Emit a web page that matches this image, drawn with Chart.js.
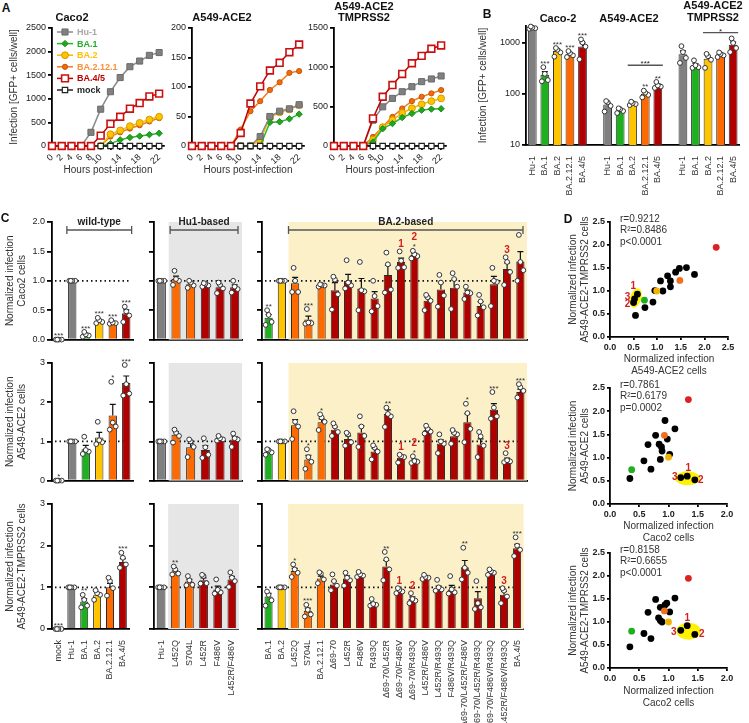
<!DOCTYPE html>
<html>
<head>
<meta charset="utf-8">
<script src="https://cdn.jsdelivr.net/npm/chart.js@4.4.1/dist/chart.umd.min.js"></script>
<style>
  body { margin: 0; background: #fff; }
  #fig { position: relative; width: 749px; height: 723px; overflow: hidden; font-family: "Liberation Sans", Arial, sans-serif; color: #111; }
  #fig canvas { position: absolute; }
  .t { position: absolute; transform: translate(-50%, -50%); white-space: nowrap; font-weight: bold; font-size: 11px; line-height: 1; }
</style>
</head>
<body>
<div id="fig"></div>
<script>
// ---------- panel A: infection kinetics, GFP+ cells per well ----------
const hours = [0, 2, 4, 6, 8, 10, 12, 14, 16, 18, 20, 22];
const unlabeledHours = [12, 16, 20];

const cacoHu1    = [0, 0, 0, 0, 290, 780, 1150, 1450, 1680, 1800, 1920, 1980];
const cacoBA1    = [0, 0, 0, 0, 0, 0, 50, 130, 180, 210, 240, 270];
const cacoBA2    = [0, 0, 0, 0, 0, 0, 250, 330, 420, 490, 560, 620];
const cacoBA2121 = [0, 0, 0, 0, 0, 0, 200, 290, 370, 440, 520, 590];
const cacoBA45   = [0, 0, 0, 0, 0, 220, 470, 620, 790, 910, 1050, 1110];

const aceHu1    = [0, 0, 0, 0, 0, 0, 0, 16, 50, 59, 63, 70];
const aceBA1    = [0, 0, 0, 0, 0, 0, 0, 0, 40, 41, 46, 54];
const aceBA2    = [0, 0, 0, 0, 0, 0, 0, 10, 48, 57, 62, 69];
const aceBA2121 = [0, 0, 0, 0, 0, 28, 59, 76, 95, 108, 124, 127];
const aceBA45   = [0, 0, 0, 0, 0, 22, 72, 101, 128, 141, 159, 172];

const tmpHu1    = [0, 0, 0, 0, 328, 498, 605, 690, 754, 818, 852, 890];
const tmpBA1    = [0, 0, 0, 0, 51, 220, 285, 362, 413, 456, 469, 473];
const tmpBA2    = [0, 0, 0, 0, 80, 240, 330, 420, 480, 530, 570, 605];
const tmpBA2121 = [0, 0, 0, 0, 115, 243, 370, 477, 571, 626, 669, 711];
const tmpBA45   = [0, 0, 0, 0, 350, 626, 775, 916, 1052, 1146, 1236, 1278];

const mockGfp = [0, 0, 0, 0, 0, 0, 0, 0, 0, 0, 0, 0];

// ---------- panel B: infection [GFP+ cells/well], log scale ----------
const bVariants = ['Hu-1', 'BA.1', 'BA.2', 'BA.2.12.1', 'BA.4/5'];
const bCaco = [1950, 235, 680, 590, 840];
const bAce2 = [62, 47, 65, 100, 145];
const bTmp  = [590, 360, 480, 590, 900];
const bCacoPts = [[1850, 1900, 1950, 2050], [175, 185, 245, 330], [530, 640, 720, 780], [520, 560, 620, 680], [470, 830, 1000, 1150]];
const bAce2Pts = [[45, 58, 68, 72], [42, 46, 50, 52], [60, 63, 66, 70], [85, 95, 105, 115], [130, 138, 145, 170]];
const bTmpPts  = [[400, 500, 650, 850], [320, 330, 360, 450], [320, 460, 540, 600], [520, 560, 600, 640], [650, 780, 980, 1200]];
const bCacoStars = ['', '***', '***', '***', '***'];
const bAce2Stars = ['', '', '', '**', '**'];
const bTmpStars  = ['', '', '', '', ''];

// ---------- panel C: normalized infection ----------
const wtLabels  = ['mock', 'Hu-1', 'BA.1', 'BA.2', 'BA.2.12.1', 'BA.4/5'];
const hu1Labels = ['Hu-1', 'L452Q', 'S704L', 'L452R', 'F486V', 'L452R/F486V'];
const ba2Labels = ['BA.1', 'BA.2', 'L452Q', 'S704L', 'BA.2.12.1', 'Δ69-70', 'L452R', 'F486V', 'R493Q',
  'Δ69-70/L452R', 'Δ69-70/F486V', 'Δ69-70/R493Q', 'L452R/F486V', 'L452R/R493Q', 'F486V/R493Q',
  'Δ69-70/L452R/F486V', 'Δ69-70/L452R/R493Q', 'Δ69-70/F486V/R493Q', 'L452R/F486V/R493Q', 'BA.4/5'];
const ba2Marks = ['', '', '', '', '', '', '', '', '', '', '1', '2', '', '', '', '', '', '', '3', ''];

// Caco2
const cacoWt = [0, 1, 0.08, 0.32, 0.29, 0.45];
const cacoWtPts = [[0, 0, 0, 0], [1, 1, 1, 1], [0.05, 0.07, 0.09, 0.13], [0.28, 0.3, 0.33, 0.37], [0.27, 0.28, 0.29, 0.33], [0.3, 0.41, 0.48, 0.56]];
const cacoWtStars = ['***', '', '***', '***', '***', '***'];
const cacoHu1Bars = [1, 1.03, 0.94, 0.93, 0.89, 0.89];
const cacoHu1Pts = [[1, 1, 1, 1], [0.93, 1.0, 1.03, 1.17], [0.88, 0.92, 0.97, 1.0], [0.9, 0.92, 0.95, 0.96], [0.79, 0.87, 0.93, 0.97], [0.8, 0.86, 0.9, 1.0]];
const cacoBa2 = [0.37, 1.0, 0.96, 0.34, 0.92, 0.84, 1.0, 0.87, 0.70, 1.10, 1.32, 1.44, 0.66, 0.85, 0.88, 0.80, 0.57, 0.94, 1.20, 1.33];
const cacoBa2Pts = [[0.25, 0.3, 0.42, 0.5], [1, 1, 1, 1], [0.81, 0.81, 1.0, 1.22], [0.27, 0.28, 0.29, 0.52], [0.9, 0.92, 0.93, 0.94],
  [0.51, 0.77, 1.02, 1.07], [0.87, 0.92, 0.97, 1.35], [0.5, 0.82, 0.84, 1.32], [0.48, 0.57, 0.74, 1.0], [0.8, 0.85, 1.28, 1.48],
  [1.22, 1.23, 1.34, 1.5], [1.38, 1.42, 1.45, 1.51], [0.5, 0.66, 0.72, 0.76], [0.56, 0.75, 0.97, 1.1], [0.52, 0.9, 1.03, 1.13],
  [0.69, 0.79, 0.8, 0.9], [0.41, 0.55, 0.65, 0.76], [0.57, 0.98, 1.0, 1.22], [0.93, 1.15, 1.32, 1.4], [1.0, 1.18, 1.32, 1.78]];
const cacoBa2Stars = ['**', '', '', '***', '', '', '', '', '', '', '', '*', '', '', '', '', '', '', '', ''];

// A549-ACE2
const aceWt = [0, 1, 0.8, 1.1, 1.66, 2.49];
const aceWtPts = [[0, 0, 0, 0], [1, 1, 1, 1], [0.68, 0.74, 0.78, 1.12], [0.93, 0.98, 1.03, 1.5], [1.3, 1.38, 1.48, 2.52], [2.17, 2.22, 2.46, 2.95]];
const aceWtStars = ['*', '', '', '', '*', '***'];
const aceHu1Bars = [1, 1.17, 0.85, 0.78, 1.06, 1.05];
const aceHu1Pts = [[1, 1, 1, 1], [0.97, 1.14, 1.22, 1.3], [0.6, 0.86, 1.0, 1.05], [0.58, 0.66, 0.85, 1.08], [1.02, 1.05, 1.08, 1.14], [0.86, 1.05, 1.08, 1.2]];
const aceBa2 = [0.74, 1.0, 1.41, 0.54, 1.49, 1.30, 1.06, 1.23, 0.74, 1.70, 0.58, 0.51, 1.29, 0.94, 1.13, 1.49, 0.92, 1.81, 0.52, 2.26];
const aceBa2Pts = [[0.66, 0.72, 0.78, 0.8], [1, 1, 1, 1], [1.06, 1.38, 1.5, 1.77], [0.3, 0.48, 0.6, 0.8], [1.29, 1.5, 1.61, 1.69],
  [1.14, 1.24, 1.38, 1.46], [0.89, 0.98, 1.18, 1.22], [0.86, 1.14, 1.38, 1.64], [0.54, 0.74, 0.84, 0.9], [1.37, 1.64, 1.7, 1.86],
  [0.46, 0.6, 0.62, 0.66], [0.45, 0.48, 0.5, 0.62], [1.2, 1.25, 1.32, 1.4], [0.7, 0.94, 1.0, 1.18], [0.94, 1.18, 1.22, 1.29],
  [0.98, 1.32, 1.72, 1.96], [0.6, 0.89, 1.13, 1.24], [1.58, 1.64, 1.86, 2.26], [0.47, 0.49, 0.52, 0.7], [2.12, 2.29, 2.38, 2.46]];
const aceBa2Stars = ['', '', '', '*', '*', '', '', '', '', '**', '', '*', '', '', '', '*', '', '***', '', '***'];

// A549-ACE2-TMPRSS2
const tmpWt = [0, 1, 0.66, 0.81, 1.0, 1.61];
const tmpWtPts = [[0, 0, 0, 0], [1, 1, 1, 1], [0.52, 0.56, 0.7, 0.82], [0.7, 0.82, 0.86, 0.93], [0.8, 0.98, 1.15, 1.23], [1.47, 1.55, 1.71, 1.83]];
const tmpWtStars = ['***', '', '**', '', '', '***'];
const tmpHu1Bars = [1, 1.35, 1.14, 1.17, 0.95, 1.19];
const tmpHu1Pts = [[1, 1, 1, 1], [1.31, 1.33, 1.43, 1.5], [1.05, 1.06, 1.17, 1.27], [1.09, 1.1, 1.27, 1.3], [0.85, 0.88, 0.94, 1.19], [1.01, 1.15, 1.23, 1.36]];
const tmpHu1Stars = ['', '**', '', '', '', ''];
const tmpBa2 = [0.78, 1.0, 1.39, 0.44, 1.21, 1.07, 1.21, 1.28, 0.6, 1.5, 0.91, 0.72, 1.24, 0.97, 0.95, 1.48, 0.74, 1.37, 0.82, 1.94];
const tmpBa2Pts = [[0.56, 0.69, 0.82, 0.9], [1, 1, 1, 1], [1.25, 1.35, 1.43, 1.55], [0.3, 0.35, 0.46, 0.58], [1.1, 1.19, 1.33, 1.36],
  [0.93, 1.04, 1.15, 1.31], [1.04, 1.17, 1.23, 1.35], [1.25, 1.28, 1.31, 1.37], [0.56, 0.58, 0.6, 0.72], [1.17, 1.43, 1.67, 1.85],
  [0.86, 0.9, 0.94, 0.98], [0.62, 0.68, 0.72, 0.86], [1.2, 1.23, 1.25, 1.3], [0.92, 0.95, 1.0, 1.18], [0.85, 0.88, 0.95, 1.27],
  [1.19, 1.35, 1.47, 1.95], [0.48, 0.52, 0.62, 1.15], [1.3, 1.35, 1.38, 1.43], [0.62, 0.78, 0.92, 0.98], [1.75, 1.9, 2.0, 2.2]];
const tmpBa2Stars = ['', '', '*', '***', '', '', '', '', '', '**', '', '', '', '', '', '**', '', '', '', '***'];

// ---------- panel D: correlations (x, y) ----------
const d1Black  = [[1.62, 1.51], [1.47, 1.49], [1.39, 1.41], [1.22, 1.33], [1.28, 1.22], [1.07, 1.22], [1.28, 1.09], [1.12, 1.0], [0.95, 1.01], [1.79, 1.36], [0.91, 0.76], [0.74, 0.64], [0.54, 0.47]];
const d1Marked = [[0.58, 0.93], [0.50, 0.75], [0.52, 0.83]];
const d1Colored = [[0.73, 0.80], [0.99, 1.0], [1.48, 1.23], [2.25, 1.95]];
const d2Black  = [[0.94, 1.80], [1.11, 1.62], [0.78, 1.48], [0.65, 1.28], [0.84, 1.29], [0.88, 1.23], [0.98, 1.40], [0.89, 1.14], [1.02, 1.07], [0.86, 0.96], [0.58, 0.93], [0.70, 0.75], [0.34, 0.55]];
const d2Marked = [[1.32, 0.60], [1.45, 0.52], [1.21, 0.57]];
const d2Colored = [[0.37, 0.74], [1.0, 1.01], [0.93, 1.48], [1.34, 2.25]];
const d3Black  = [[0.78, 1.49], [0.65, 1.21], [0.86, 1.32], [0.94, 1.37], [0.97, 1.41], [1.11, 1.52], [1.02, 1.22], [0.83, 1.09], [0.86, 1.03], [0.89, 1.0], [0.58, 0.75], [0.70, 0.64], [0.34, 0.46]];
const d3Marked = [[1.32, 0.92], [1.45, 0.73], [1.21, 0.82]];
const d3Colored = [[0.37, 0.80], [1.0, 1.0], [0.93, 1.24], [1.34, 1.95]];
const markedNames = ['1', '2', '3'];
const d1Stats = ['r=0.9212', 'R²=0.8486', 'p<0.0001'];
const d2Stats = ['r=0.7861', 'R²=0.6179', 'p=0.0002'];
const d3Stats = ['r=0.8158', 'R²=0.6655', 'p<0.0001'];

// ---------- styling ----------
const FONT = '"Liberation Sans", Arial, sans-serif';
Chart.defaults.font.family = FONT;
Chart.defaults.font.size = 9;
Chart.defaults.color = '#222';
Chart.defaults.animation = false;
Chart.defaults.responsive = false;
Chart.defaults.plugins.legend.display = false;
Chart.defaults.plugins.tooltip.enabled = false;

const GRAY = '#808080', GREEN = '#1fb01f', YELLOW = '#ffc400', ORANGE = '#ff6a00', RED = '#b00000';
const wtColors = [GRAY, GRAY, GREEN, YELLOW, ORANGE, RED];
const hu1Colors = [GRAY, ORANGE, ORANGE, RED, RED, RED];
const ba2Colors = ba2Labels.map((l, i) => i === 0 ? GREEN : i === 1 ? YELLOW : (i <= 4 ? ORANGE : RED));
const JITTER = [-3, 3, 0, -1.5];

const fig = document.getElementById('fig');

function label(str, x, y, css) {
  const d = document.createElement('div');
  d.className = 't';
  d.textContent = str;
  d.style.left = x + 'px';
  d.style.top = y + 'px';
  if (css) Object.assign(d.style, css);
  fig.appendChild(d);
}

// canvas placed so that the chart area lands on box l/t/r/b
function place(box, config) {
  const {l, t, r, b, yW = 8, xH = 0, pl = 0, pt = 10, pr = 8, pb = 0} = box;
  const left = l - yW - pl, top = t - pt;
  const w = Math.round(r + pr - left), h = Math.round(b + xH + pb - top);
  const cv = document.createElement('canvas');
  cv.width = w; cv.height = h;
  cv.style.left = left + 'px'; cv.style.top = top + 'px';
  fig.appendChild(cv);
  const o = config.options;
  o.layout = {padding: {left: pl, top: pt, right: pr, bottom: pb}};
  o.scales.y.afterFit = s => { s.width = yW; };
  o.scales.x.afterFit = s => { s.height = xH; };
  return new Chart(cv, config);
}

function linAxis(min, max, step, opt = {}) {
  return {
    type: opt.log ? 'logarithmic' : 'linear', min, max,
    border: {color: '#000', width: 1.8},
    grid: {drawOnChartArea: false, color: '#000', lineWidth: 1.8, tickLength: opt.tickLength || 4},
    ticks: {stepSize: step, autoSkip: false, padding: 2, color: '#222',
      font: {size: opt.fontSize || 9, weight: opt.bold ? 'bold' : 'normal'},
      callback: opt.fmt || (v => v)},
    title: opt.title ? {display: true, text: opt.title, color: '#333', font: {size: 10}, padding: {top: opt.titleTop || 4, bottom: 4}} : {display: false},
    afterBuildTicks: opt.tickValues ? s => { s.ticks = opt.tickValues.map(v => ({value: v})); } : undefined
  };
}

function catAxis(showLabels) {
  return {
    type: 'category',
    border: {color: '#000', width: 1.8},
    grid: {display: false},
    ticks: showLabels ? {display: true, autoSkip: false, maxRotation: 90, minRotation: 90, padding: 3, color: '#333', font: {size: 9}} : {display: false}
  };
}

function sem(arr) {
  const n = arr.length, m = arr.reduce((s, v) => s + v, 0) / n;
  const sd = Math.sqrt(arr.reduce((s, v) => s + (v - m) * (v - m), 0) / (n - 1));
  return sd / Math.sqrt(n);
}

// shading, reference line, dots, SEM whiskers, stars
const barMarks = {
  id: 'barMarks',
  beforeDatasetsDraw(chart, args, o) {
    const {ctx, chartArea: a, scales: {x, y}} = chart;
    ctx.save();
    if (o.shadeFrom != null) {
      const step = x.getPixelForValue(1) - x.getPixelForValue(0);
      const x0 = x.getPixelForValue(o.shadeFrom) - step / 2;
      ctx.fillStyle = o.shadeColor;
      ctx.fillRect(x0, a.top, a.right - x0, a.bottom - a.top);
    }
    if (o.refLine != null) {
      const yy = y.getPixelForValue(o.refLine);
      ctx.setLineDash([1.5, 3]);
      ctx.lineWidth = 1.8;
      ctx.strokeStyle = '#111';
      ctx.beginPath(); ctx.moveTo(a.left + 3, yy); ctx.lineTo(a.right - 3, yy); ctx.stroke();
    }
    ctx.restore();
  },
  afterDatasetsDraw(chart, args, o) {
    if (!o.points) return;
    const {ctx, scales: {x, y}} = chart;
    const means = chart.data.datasets[0].data;
    ctx.save();
    o.points.forEach((p, i) => {
      if (!p) return;
      const cx = x.getPixelForValue(i);
      let top = y.getPixelForValue(means[i]);
      const e = sem(p);
      if (e > 1e-6) {
        const y0 = y.getPixelForValue(means[i]), y1 = y.getPixelForValue(means[i] + e);
        ctx.strokeStyle = '#111'; ctx.lineWidth = 1.2;
        ctx.beginPath(); ctx.moveTo(cx, y0); ctx.lineTo(cx, y1);
        ctx.moveTo(cx - 3, y1); ctx.lineTo(cx + 3, y1); ctx.stroke();
        top = Math.min(top, y1);
      }
      p.forEach((v, k) => {
        const py = y.getPixelForValue(v);
        ctx.beginPath(); ctx.arc(cx + JITTER[k % 4], py, 2.4, 0, Math.PI * 2);
        ctx.fillStyle = '#fff'; ctx.fill();
        ctx.lineWidth = 1; ctx.strokeStyle = '#333'; ctx.stroke();
        top = Math.min(top, py - 2.4);
      });
      ctx.textAlign = 'center'; ctx.textBaseline = 'alphabetic';
      const s = o.stars && o.stars[i];
      if (s) {
        ctx.font = '8px ' + FONT; ctx.fillStyle = '#333';
        ctx.fillText(s, cx, top + 1);
        top -= 6;
      }
      const m = o.marks && o.marks[i];
      if (m) {
        ctx.font = 'bold 10px ' + FONT; ctx.fillStyle = '#d21f1f';
        ctx.fillText(m, cx, top - 2);
      }
    });
    ctx.restore();
  }
};

// group brackets and significance lines
const brackets = {
  id: 'brackets',
  afterDraw(chart, args, o) {
    if (!o.items) return;
    const {ctx, chartArea: a, scales: {x, y}} = chart;
    const step = x.getPixelForValue(1) - x.getPixelForValue(0);
    ctx.save();
    o.items.forEach(b => {
      const x0 = b.fromEdge ? x.getPixelForValue(b.from) - step / 2 : x.getPixelForValue(b.from) - step * 0.4;
      const x1 = b.toEnd ? a.right - 4 : x.getPixelForValue(b.to) + step * 0.4;
      const yy = b.value != null ? y.getPixelForValue(b.value) : a.top + b.offset;
      ctx.strokeStyle = '#555'; ctx.lineWidth = 1.3;
      ctx.beginPath(); ctx.moveTo(x0, yy); ctx.lineTo(x1, yy);
      if (b.ends) { ctx.moveTo(x0, yy - 4); ctx.lineTo(x0, yy + 4); ctx.moveTo(x1, yy - 4); ctx.lineTo(x1, yy + 4); }
      ctx.stroke();
      ctx.font = b.font; ctx.fillStyle = '#222'; ctx.textAlign = 'center'; ctx.textBaseline = 'alphabetic';
      ctx.fillText(b.text, (x0 + x1) / 2, yy - b.gap);
    });
    ctx.restore();
  }
};

function drawMarker(ctx, style, x, y, r) {
  ctx.beginPath();
  if (style === 'circle') ctx.arc(x, y, r, 0, Math.PI * 2);
  else if (style === 'rectRot') { ctx.moveTo(x, y - r); ctx.lineTo(x + r, y); ctx.lineTo(x, y + r); ctx.lineTo(x - r, y); ctx.closePath(); }
  else { const s = r * Math.SQRT1_2; ctx.rect(x - s, y - s, 2 * s, 2 * s); }
  ctx.fill(); ctx.stroke();
}

const lineLegend = {
  id: 'lineLegend',
  afterDraw(chart, args, o) {
    if (!o.series) return;
    const {ctx, chartArea: a} = chart;
    ctx.save();
    o.series.forEach((s, row) => {
      const yy = a.top + o.top + row * o.rowH, x0 = a.left + o.left;
      ctx.strokeStyle = s.line; ctx.lineWidth = 1.5;
      ctx.beginPath(); ctx.moveTo(x0, yy); ctx.lineTo(x0 + 16, yy); ctx.stroke();
      ctx.fillStyle = s.fill; ctx.strokeStyle = s.edge; ctx.lineWidth = s.bw;
      drawMarker(ctx, s.style, x0 + 8, yy, s.r);
      ctx.font = 'bold 9px ' + FONT; ctx.fillStyle = s.text;
      ctx.textAlign = 'left'; ctx.textBaseline = 'middle';
      ctx.fillText(s.label, x0 + 20, yy + 0.5);
    });
    ctx.restore();
  }
};

// ---------- panel A ----------
const aSeries = [
  {label: 'Hu-1', order: 2, line: '#8a8a8a', fill: '#808080', edge: '#6a6a6a', style: 'rect', r: 4.3, bw: 1, text: '#a8a8a8'},
  {label: 'BA.1', order: 3, line: '#2bb52b', fill: '#1fa81f', edge: '#178a17', style: 'rectRot', r: 3.2, bw: 1, text: '#22b022'},
  {label: 'BA.2', order: 4, line: '#f5b800', fill: '#ffc400', edge: '#d49a00', style: 'circle', r: 3.4, bw: 1, text: '#ffbf00'},
  {label: 'BA.2.12.1', order: 5, line: '#f27a1a', fill: '#f26a0a', edge: '#c4560a', style: 'circle', r: 2.6, bw: 1, text: '#f7913d'},
  {label: 'BA.4/5', order: 0, line: '#c00000', fill: '#ffffff', edge: '#c81010', style: 'rect', r: 4.8, bw: 1.6, text: '#c00000'},
  {label: 'mock', order: 1, line: '#222222', fill: '#ffffff', edge: '#222222', style: 'rect', r: 3.8, bw: 1.2, text: '#222222'}
];

function aChart(box, series, yMax, yStep, legend, yTitle) {
  const datasets = series.map((vals, k) => {
    const s = aSeries[k];
    return {
      label: s.label, order: s.order, clip: false,
      data: vals.map((v, i) => ({x: hours[i], y: v})),
      borderColor: s.line, borderWidth: 1.5,
      pointStyle: s.style, pointRadius: s.r, pointBackgroundColor: s.fill,
      pointBorderColor: s.edge, pointBorderWidth: s.bw
    };
  });
  place(box, {
    type: 'line',
    data: {datasets},
    options: {
      scales: {
        x: linAxis(0, 23, 2, {title: 'Hours post-infection', tickValues: hours,
          fmt: v => unlabeledHours.includes(v) ? '' : v}),
        y: linAxis(0, yMax, yStep, {title: yTitle, titleTop: 8})
      },
      plugins: {lineLegend: legend ? {series: aSeries, left: 5, top: 4, rowH: 11.6} : {}}
    },
    plugins: [lineLegend]
  });
}

aChart({l: 52, t: 28, r: 164, b: 146, yW: 52, xH: 34},
  [cacoHu1, cacoBA1, cacoBA2, cacoBA2121, cacoBA45, mockGfp], 2500, 500, true, 'Infection [GFP+ cells/well]');
aChart({l: 192, t: 28, r: 304, b: 146, yW: 30, xH: 34},
  [aceHu1, aceBA1, aceBA2, aceBA2121, aceBA45, mockGfp], 200, 50, false, null);
aChart({l: 334, t: 28, r: 446, b: 146, yW: 30, xH: 34},
  [tmpHu1, tmpBA1, tmpBA2, tmpBA2121, tmpBA45, mockGfp], 1500, 500, false, null);

// ---------- panel B ----------
const bColors = [GRAY, GREEN, YELLOW, ORANGE, RED];
const bLabels = [...bVariants, '', ...bVariants, '', ...bVariants];
place({l: 526, t: 26, r: 745, b: 145, yW: 51, xH: 50, pr: 2}, {
  type: 'bar',
  data: {
    labels: bLabels,
    datasets: [{
      data: [...bCaco, null, ...bAce2, null, ...bTmp],
      backgroundColor: [...bColors, GRAY, ...bColors, GRAY, ...bColors],
      borderColor: '#333', borderWidth: 1, barPercentage: 0.7, categoryPercentage: 1
    }]
  },
  options: {
    scales: {
      x: catAxis(true),
      y: linAxis(10, 2100, null, {log: true, tickValues: [10, 100, 1000], title: 'Infection [GFP+ cells/well]', titleTop: 2})
    },
    plugins: {
      barMarks: {points: [...bCacoPts, null, ...bAce2Pts, null, ...bTmpPts],
        stars: [...bCacoStars, '', ...bAce2Stars, '', ...bTmpStars]},
      brackets: {items: [
        {from: 8, to: 10, value: 360, text: '***', font: '8px ' + FONT, gap: -1},
        {from: 14, to: 16, value: 1560, text: '*', font: '8px ' + FONT, gap: -1}
      ]}
    }
  },
  plugins: [barMarks, brackets]
});

// ---------- panel C ----------
const cRows = [
  {t: 222, b: 347, max: 2, step: 0.5, fmt: v => v.toFixed(1), title: ['Normalized infection', 'Caco2 cells'],
    wt: [cacoWt, cacoWtPts, cacoWtStars], hu1: [cacoHu1Bars, cacoHu1Pts, null], ba2: [cacoBa2, cacoBa2Pts, cacoBa2Stars]},
  {t: 363, b: 488, max: 3, step: 1, fmt: v => v, title: ['Normalized infection', 'A549-ACE2 cells'],
    wt: [aceWt, aceWtPts, aceWtStars], hu1: [aceHu1Bars, aceHu1Pts, null], ba2: [aceBa2, aceBa2Pts, aceBa2Stars]},
  {t: 504, b: 629, max: 3, step: 1, fmt: v => v, title: ['Normalized infection', 'A549-ACE2-TMPRSS2 cells'],
    wt: [tmpWt, tmpWtPts, tmpWtStars], hu1: [tmpHu1Bars, tmpHu1Pts, tmpHu1Stars], ba2: [tmpBa2, tmpBa2Pts, tmpBa2Stars]}
];
const cCols = [
  {key: 'wt', l: 52, r: 133, yW: 52, labels: wtLabels, colors: wtColors, shadeFrom: null,
    group: {from: 1, to: 5, text: 'wild-type'}},
  {key: 'hu1', l: 154, r: 242, yW: 8, labels: hu1Labels, colors: hu1Colors, shadeFrom: 1, shade: '#e6e6e6',
    group: {from: 1, to: 5, text: 'Hu1-based', toEnd: true}},
  {key: 'ba2', l: 262, r: 527, yW: 8, labels: ba2Labels, colors: ba2Colors, shadeFrom: 2, shade: '#fcf0c9',
    group: {from: 2, to: 19, text: 'BA.2-based', fromEdge: true, toEnd: true}, marks: ba2Marks}
];

cRows.forEach((row, ri) => {
  cCols.forEach((col, ci) => {
    const [vals, pts, stars] = row[col.key];
    const last = ri === 2;
    const items = ri === 0 ? [Object.assign({offset: 8, ends: true, font: 'bold 10px ' + FONT, gap: 5.5}, col.group)] : [];
    place({l: col.l, t: row.t, r: col.r, b: row.b, yW: col.yW, xH: last ? 100 : 0, pt: ri === 0 ? 16 : 8, pr: 4}, {
      type: 'bar',
      data: {
        labels: col.labels,
        datasets: [{data: vals, backgroundColor: col.colors, borderColor: '#2a2a2a', borderWidth: 1,
          barPercentage: 0.62, categoryPercentage: 1}]
      },
      options: {
        scales: {
          x: catAxis(last),
          y: linAxis(0, row.max, row.step, {tickLength: 5,
            fmt: ci === 0 ? row.fmt : () => '', title: ci === 0 ? row.title : null})
        },
        plugins: {
          barMarks: {shadeFrom: col.shadeFrom, shadeColor: col.shade, refLine: 1,
            points: pts, stars: stars, marks: col.marks},
          brackets: {items}
        }
      },
      plugins: [barMarks, brackets]
    });
  });
});

// ---------- panel D ----------
const dDeco = {
  id: 'dDeco',
  beforeDatasetsDraw(chart, args, o) {
    const {ctx, scales: {x, y}} = chart;
    const px = o.marked.map(p => [x.getPixelForValue(p[0]), y.getPixelForValue(p[1])]);
    const cx = px.reduce((s, p) => s + p[0], 0) / px.length + o.ell.dx;
    const cy = px.reduce((s, p) => s + p[1], 0) / px.length + o.ell.dy;
    ctx.save();
    ctx.fillStyle = '#fff200';
    ctx.beginPath(); ctx.ellipse(cx, cy, o.ell.rx, o.ell.ry, o.ell.rot, 0, Math.PI * 2); ctx.fill();
    ctx.restore();
  },
  afterDatasetsDraw(chart, args, o) {
    const {ctx, chartArea: a, scales: {x, y}} = chart;
    ctx.save();
    ctx.font = 'bold 10px ' + FONT; ctx.fillStyle = '#d21f1f';
    ctx.textAlign = 'center'; ctx.textBaseline = 'middle';
    o.marked.forEach((p, i) => {
      ctx.fillText(markedNames[i], x.getPixelForValue(p[0]) + o.offsets[i][0], y.getPixelForValue(p[1]) + o.offsets[i][1]);
    });
    ctx.font = '10px ' + FONT; ctx.fillStyle = '#333'; ctx.textAlign = 'left';
    o.stats.forEach((s, i) => ctx.fillText(s, a.left + 10, a.top - 3 + i * 11.5));
    ctx.restore();
  }
};

function dChart(box, xMax, black, marked, colored, stats, offsets, ell, xTitle, yTitle) {
  const xy = arr => arr.map(p => ({x: p[0], y: p[1]}));
  const dotColors = [GREEN, '#f0b400', '#f07020', '#dd2020'];
  const datasets = colored.map((p, i) => ({data: xy([p]), backgroundColor: dotColors[i], borderWidth: 0, pointRadius: 3.4, clip: false}));
  datasets.push({data: xy(black.concat(marked)), backgroundColor: '#000', borderWidth: 0, pointRadius: 3.4, clip: false});
  place(box, {
    type: 'scatter',
    data: {datasets},
    options: {
      scales: {
        x: linAxis(0, xMax, 0.5, {bold: true, tickLength: 3, fmt: v => v.toFixed(1), title: xTitle}),
        y: linAxis(0, 2.5, 0.5, {bold: true, tickLength: 3, fmt: v => v.toFixed(1), title: yTitle})
      },
      plugins: {dDeco: {marked, stats, offsets, ell}}
    },
    plugins: [dDeco]
  });
}

const tmpTitle = ['Normalized infection', 'A549-ACE2-TMPRSS2 cells'];
const aceTitle = ['Normalized infection', 'A549-ACE2 cells'];
const cacoTitle = ['Normalized infection', 'Caco2 cells'];
dChart({l: 610, t: 222, r: 728, b: 337, yW: 47, xH: 44, pt: 12, pr: 10}, 2.5, d1Black, d1Marked, d1Colored, d1Stats,
  [[-4, -8], [-6, 2], [-7, -2]], {dx: 0.5, dy: -0.5, rx: 5.5, ry: 10, rot: 0.3}, aceTitle, tmpTitle);
dChart({l: 610, t: 388, r: 727, b: 504, yW: 47, xH: 44, pt: 12, pr: 10}, 2.0, d2Black, d2Marked, d2Colored, d2Stats,
  [[1, -8], [6, 0], [-6, 0]], {dx: 0, dy: 0.5, rx: 12.5, ry: 7, rot: 0}, cacoTitle, aceTitle);
dChart({l: 610, t: 553, r: 727, b: 668, yW: 47, xH: 45, pt: 12, pr: 10}, 2.0, d3Black, d3Marked, d3Colored, d3Stats,
  [[0, -7], [7, 0], [-7, 2]], {dx: 1, dy: 1, rx: 12, ry: 8.5, rot: 0}, cacoTitle, tmpTitle);

// ---------- titles and panel letters ----------
label('A', 6, 8, {fontSize: '12px'});
label('Caco2', 72, 17);
label('A549-ACE2', 222, 17);
label('A549-ACE2', 364, 6);
label('TMPRSS2', 364, 17);
label('B', 487, 14, {fontSize: '12px'});
label('Caco-2', 558, 18);
label('A549-ACE2', 629, 18);
label('A549-ACE2', 713, 5);
label('TMPRSS2', 713, 17);
label('C', 5, 218, {fontSize: '12px'});
label('D', 568, 219, {fontSize: '12px'});
</script>
</body>
</html>
